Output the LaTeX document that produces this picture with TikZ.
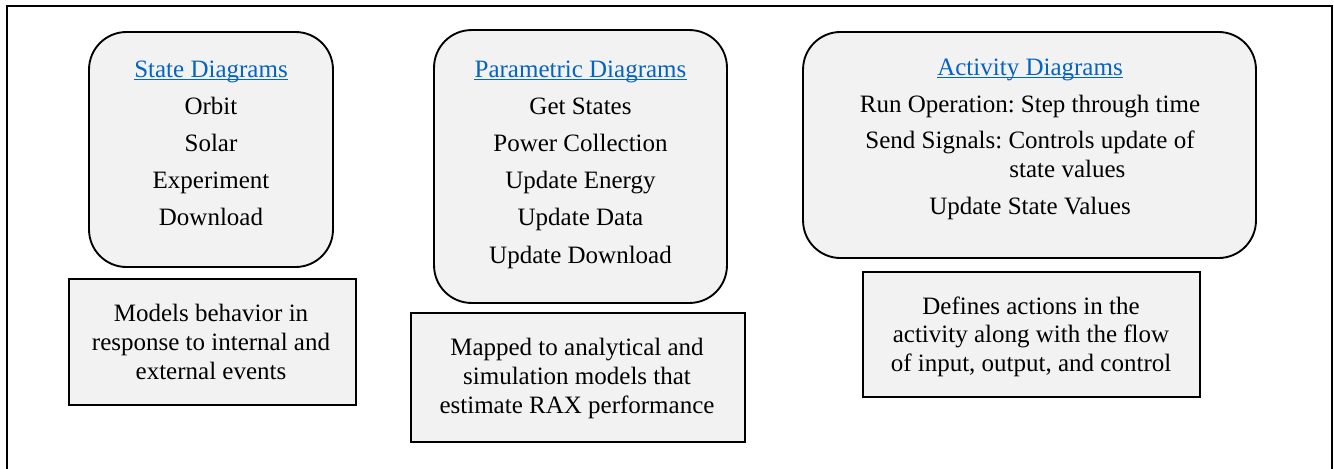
\documentclass[tikz,border=0pt]{standalone}
\usepackage{fontspec}
\setmainfont{Liberation Serif}
\usepackage{xcolor}
\usetikzlibrary{positioning}
\definecolor{boxgray}{HTML}{F2F2F2}
\definecolor{linkblue}{HTML}{0563C1}
\frenchspacing

\begin{document}
\begin{tikzpicture}[x=0.48pt,y=-0.48pt,
  every node/.style={font=\fontsize{12}{14}\selectfont},
  roundbox/.style={draw,line width=0.9pt,fill=boxgray,rounded corners=18pt,inner sep=0pt},
  notebox/.style={draw,line width=0.9pt,fill=boxgray,inner sep=0pt},
  txtline/.style={anchor=base,inner sep=0pt},
  diaghead/.style={txtline,text=linkblue}]
\useasboundingbox (0,0) rectangle (1334,468);
% outer frame (bottom edge is off the page)
\draw[line width=0.9pt] (7,470) -- (7,6) -- (1332,6) -- (1332,470);

% state diagrams
\node[roundbox,minimum width=117.1pt,minimum height=112.8pt] (state) at (211,149.5) {};
\node[diaghead] (statehead) at (211,77) {State Diagrams};
\draw[linkblue,line width=0.5pt] ([yshift=-1pt]statehead.base west) -- ([yshift=-1pt]statehead.base east);
\foreach \txt [count=\i from 0] in {Orbit,Solar,Experiment,Download}
\node[txtline] (state-\i) at (211,{114+37.3*\i}) {\txt};
\node[notebox,minimum width=137.8pt,minimum height=60.5pt] (statenote) at (212.5,342) {};
\foreach \txt [count=\i from 0] in {Models behavior in,response to internal and,external events}
\node[txtline] (statenote-\i) at (211,{321+29*\i}) {\txt};

% parametric diagrams
\node[roundbox,minimum width=140.6pt,minimum height=131pt] (param) at (580.5,166.5) {};
\node[diaghead] (paramhead) at (580.5,77) {Parametric Diagrams};
\draw[linkblue,line width=0.5pt] ([yshift=-1pt]paramhead.base west) -- ([yshift=-1pt]paramhead.base east);
\foreach \txt [count=\i from 0] in {Get States,Power Collection,Update Energy,Update Data,Update Download}
\node[txtline] (param-\i) at (580.5,{114+37.3*\i}) {\txt};
\node[notebox,minimum width=160.3pt,minimum height=61.9pt] (paramnote) at (578,377.5) {};
\foreach \txt [count=\i from 0] in {Mapped to analytical and,simulation models that,estimate RAX performance}
\node[txtline] (paramnote-\i) at (577,{355+29*\i}) {\txt};

% activity diagrams
\node[roundbox,minimum width=217.4pt,minimum height=108.5pt] (act) at (1029.5,145) {};
\node[diaghead] (acthead) at (1030,75) {Activity Diagrams};
\draw[linkblue,line width=0.5pt] ([yshift=-1pt]acthead.base west) -- ([yshift=-1pt]acthead.base east);
\node[txtline] (act-0) at (1030,112) {Run Operation: Step through time};
\node[txtline] (act-1) at (1030,148) {Send Signals: Controls update of};
\node[txtline,anchor=base west] (act-1b) at (1009,177) {state values};
\node[txtline] (act-2) at (1030,214) {Update State Values};
\node[notebox,minimum width=161.8pt,minimum height=60pt] (actnote) at (1031.5,334.5) {};
\foreach \txt [count=\i from 0] in {Defines actions in the,activity along with the flow,{of input, output, and control}}
\node[txtline] (actnote-\i) at (1031,{314+28.5*\i}) {\txt};
\end{tikzpicture}
\end{document}
